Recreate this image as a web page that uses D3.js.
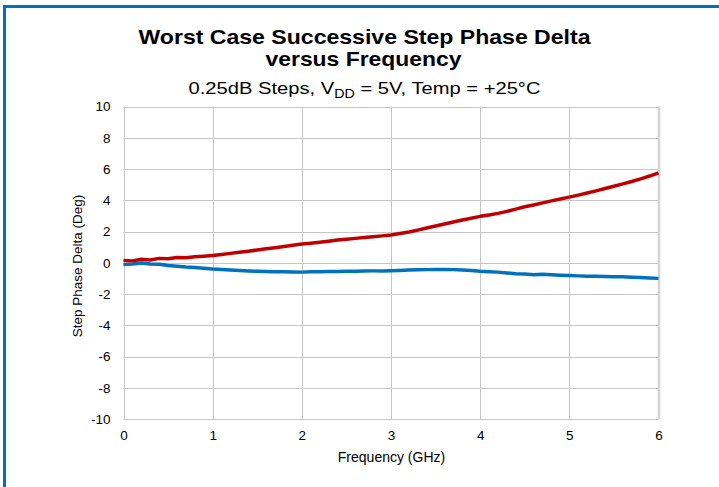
<!DOCTYPE html>
<html>
<head>
<meta charset="utf-8">
<script src="https://cdn.jsdelivr.net/npm/d3@7"></script>
<style>
  body { margin: 0; background: #fff; }
  text { font-family: Arial, "Liberation Sans", sans-serif; fill: #000; }
</style>
</head>
<body>
<svg id="chart"></svg>
<script>
// frequency points (GHz), 0.1 GHz steps
const freq = [0.0,0.1,0.2,0.3,0.4,0.5,0.6,0.7,0.8,0.9,1.0,1.1,1.2,1.3,1.4,1.5,1.6,1.7,1.8,1.9,2.0,
  2.1,2.2,2.3,2.4,2.5,2.6,2.7,2.8,2.9,3.0,3.1,3.2,3.3,3.4,3.5,3.6,3.7,3.8,3.9,4.0,
  4.1,4.2,4.3,4.4,4.5,4.6,4.7,4.8,4.9,5.0,5.1,5.2,5.3,5.4,5.5,5.6,5.7,5.8,5.9,6.0];

// red trace (deg)
const redDelta = [0.15,0.12,0.22,0.18,0.28,0.25,0.33,0.32,0.38,0.42,0.47,0.53,0.6,0.67,0.74,0.82,0.89,0.96,1.04,1.12,1.2,
  1.25,1.31,1.38,1.45,1.51,1.56,1.61,1.66,1.72,1.78,1.87,1.97,2.09,2.22,2.35,2.48,2.61,2.74,2.85,2.97,
  3.06,3.16,3.29,3.43,3.58,3.7,3.83,3.96,4.08,4.2,4.33,4.46,4.6,4.75,4.9,5.05,5.2,5.37,5.55,5.75];

// blue trace (deg)
const blueDelta = [-0.12,-0.08,-0.02,-0.08,-0.1,-0.17,-0.22,-0.27,-0.3,-0.35,-0.4,-0.43,-0.46,-0.5,-0.53,-0.55,-0.56,-0.57,-0.58,-0.59,-0.6,
  -0.58,-0.57,-0.56,-0.56,-0.55,-0.54,-0.53,-0.52,-0.52,-0.51,-0.49,-0.47,-0.45,-0.44,-0.43,-0.43,-0.44,-0.47,-0.5,-0.55,
  -0.57,-0.6,-0.65,-0.7,-0.72,-0.77,-0.74,-0.77,-0.8,-0.82,-0.84,-0.86,-0.87,-0.88,-0.89,-0.9,-0.93,-0.95,-0.98,-1.0];

const xTicks = [0, 1, 2, 3, 4, 5, 6];
const yTicks = [-10, -8, -6, -4, -2, 0, 2, 4, 6, 8, 10];

const width = 719, height = 487;
const plot = { left: 123.5, right: 658.5, top: 106.5, bottom: 419 };

const svg = d3.select("#chart").attr("width", width).attr("height", height);

// blue frame around the figure
svg.append("path")
    .attr("d", `M4.5,${height}V6.5H${width}`)
    .attr("fill", "none")
    .attr("stroke", "#0070c0")
    .attr("stroke-width", 3);

const x = d3.scaleLinear().domain([0, 6]).range([plot.left, plot.right]);
const y = d3.scaleLinear().domain([-10, 10]).range([plot.bottom, plot.top]);

// gridlines
svg.append("g")
    .selectAll("line")
    .data(yTicks)
    .join("line")
    .attr("x1", plot.left).attr("x2", plot.right)
    .attr("y1", d => Math.round(y(d)) + 0.5).attr("y2", d => Math.round(y(d)) + 0.5)
    .attr("stroke", "#c6c6c6")
    .attr("stroke-width", 1);

svg.append("g")
    .selectAll("line")
    .data(xTicks)
    .join("line")
    .attr("x1", d => Math.round(x(d)) + 0.5).attr("x2", d => Math.round(x(d)) + 0.5)
    .attr("y1", plot.top).attr("y2", plot.bottom)
    .attr("stroke", "#c6c6c6")
    .attr("stroke-width", 1);

// thicker right edge
svg.append("line")
    .attr("x1", x(6) + 0.5).attr("x2", x(6) + 0.5)
    .attr("y1", plot.top).attr("y2", plot.bottom)
    .attr("stroke", "#d4d4d4")
    .attr("stroke-width", 2.5);

// tick labels via d3 axes (no domain/tick lines)
const yAxis = svg.append("g")
    .attr("transform", `translate(${plot.left},0)`)
    .call(d3.axisLeft(y).tickValues(yTicks).tickFormat(d => String(d)).tickSize(0).tickPadding(13));
const xAxis = svg.append("g")
    .attr("transform", `translate(0,${plot.bottom})`)
    .call(d3.axisBottom(x).tickValues(xTicks).tickFormat(d => String(d)).tickSize(0).tickPadding(11));
[yAxis, xAxis].forEach(a => {
    a.select(".domain").remove();
    a.selectAll("text")
        .attr("font-family", "Arial, 'Liberation Sans', sans-serif")
        .attr("font-size", 13.5)
        .attr("fill", "#1a1a1a");
});

// series
const line = d3.line()
    .x((d, i) => x(freq[i]))
    .y(d => y(d));

svg.append("path")
    .datum(blueDelta)
    .attr("fill", "none")
    .attr("stroke", "#0070c0")
    .attr("stroke-width", 3.5)
    .attr("stroke-linejoin", "round")
    .attr("d", line);

svg.append("path")
    .datum(redDelta)
    .attr("fill", "none")
    .attr("stroke", "#c00000")
    .attr("stroke-width", 3.5)
    .attr("stroke-linejoin", "round")
    .attr("d", line);

// titles (stretched to the widths in the reference)
const cx = 364.5;
svg.append("text")
    .attr("x", cx).attr("y", 44)
    .attr("text-anchor", "middle")
    .attr("font-size", 20.5).attr("font-weight", "bold")
    .attr("textLength", 452).attr("lengthAdjust", "spacingAndGlyphs")
    .text("Worst Case Successive Step Phase Delta");
svg.append("text")
    .attr("x", cx - 1).attr("y", 66)
    .attr("text-anchor", "middle")
    .attr("font-size", 20.5).attr("font-weight", "bold")
    .attr("textLength", 196).attr("lengthAdjust", "spacingAndGlyphs")
    .text("versus Frequency");

const sub = svg.append("text")
    .attr("x", cx).attr("y", 94)
    .attr("text-anchor", "middle")
    .attr("font-size", 17)
    .attr("textLength", 352).attr("lengthAdjust", "spacingAndGlyphs");
sub.append("tspan").text("0.25dB Steps, V");
sub.append("tspan").attr("font-size", 12).attr("dy", 4).text("DD");
sub.append("tspan").attr("dy", -4).text(" = 5V, Temp = +25°C");

svg.append("text")
    .attr("x", 391.5).attr("y", 462)
    .attr("text-anchor", "middle")
    .attr("font-size", 14)
    .text("Frequency (GHz)");

svg.append("text")
    .attr("transform", `translate(82,266) rotate(-90)`)
    .attr("text-anchor", "middle")
    .attr("font-size", 13.5)
    .text("Step Phase Delta (Deg)");
</script>
</body>
</html>
